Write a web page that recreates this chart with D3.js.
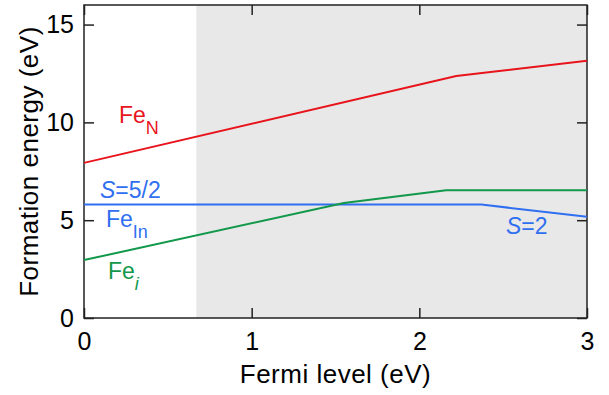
<!DOCTYPE html>
<html>
<head>
<meta charset="utf-8">
<script src="https://cdn.jsdelivr.net/npm/d3@7"></script>
<style>
  body { margin: 0; background: #fff; }
  svg text { font-family: Helvetica, "Liberation Sans", Arial, sans-serif; }
</style>
</head>
<body>
<div id="chart"></div>
<script>
// Data (Fermi level in eV -> formation energy in eV)
const feN = [[0, 7.93], [2.22, 12.37], [3, 13.15]];
const feIn = [[0, 5.8], [2.37, 5.8], [3, 5.17]];
const feI = [[0, 2.96], [1.55, 5.88], [2.16, 6.53], [3, 6.53]];
const shadeStart = 0.67;
const xTicks = [0, 1, 2, 3];
const yTicks = [0, 5, 10, 15];

const width = 609, height = 395;
const margin = { top: 5, right: 22, bottom: 77, left: 84 };

const svg = d3.select('#chart').append('svg')
  .attr('width', width)
  .attr('height', height);

const x = d3.scaleLinear().domain([0, 3]).range([margin.left, width - margin.right]);
const y = d3.scaleLinear().domain([0, 16]).range([height - margin.bottom, margin.top]);

// shaded region
svg.append('rect')
  .attr('x', x(shadeStart))
  .attr('y', y(16))
  .attr('width', x(3) - x(shadeStart))
  .attr('height', y(0) - y(16))
  .attr('fill', '#e8e8e8');

// axes with inward ticks
const tickLen = 10;
const axisB = svg.append('g')
  .attr('transform', `translate(0,${y(0)})`)
  .call(d3.axisBottom(x).tickValues(xTicks).tickSizeInner(-tickLen).tickSizeOuter(0).tickPadding(14).tickFormat(d3.format('d')));
const axisT = svg.append('g')
  .attr('transform', `translate(0,${y(16)})`)
  .call(d3.axisTop(x).tickValues(xTicks).tickSizeInner(-tickLen).tickSizeOuter(0).tickFormat(''));
const axisL = svg.append('g')
  .attr('transform', `translate(${x(0)},0)`)
  .call(d3.axisLeft(y).tickValues(yTicks).tickSizeInner(-tickLen).tickSizeOuter(0).tickPadding(10).tickFormat(d3.format('d')));
const axisR = svg.append('g')
  .attr('transform', `translate(${x(3)},0)`)
  .call(d3.axisRight(y).tickValues(yTicks).tickSizeInner(-tickLen).tickSizeOuter(0).tickFormat(''));

[axisB, axisT, axisL, axisR].forEach(g => {
  g.select('.domain').remove();
  g.selectAll('line').attr('stroke', '#222').attr('stroke-width', 1.5);
  g.selectAll('text').attr('fill', '#000').style('font-size', '25px');
});
axisB.selectAll('text').attr('dy', '0.71em');

// frame
svg.append('rect')
  .attr('x', x(0))
  .attr('y', y(16))
  .attr('width', x(3) - x(0))
  .attr('height', y(0) - y(16))
  .attr('fill', 'none')
  .attr('stroke', '#222')
  .attr('stroke-width', 1.5);

// lines
const line = d3.line().x(d => x(d[0])).y(d => y(d[1]));
const series = [
  { data: feN, color: '#e8141c' },
  { data: feIn, color: '#2f6ff0' },
  { data: feI, color: '#12984a' }
];
series.forEach(s => {
  svg.append('path')
    .datum(s.data)
    .attr('d', line)
    .attr('fill', 'none')
    .attr('stroke', s.color)
    .attr('stroke-width', 2);
});

// labels with subscripts
function label(px, py, color, main, sub, subItalic) {
  const t = svg.append('text')
    .attr('x', px)
    .attr('y', py)
    .attr('fill', color)
    .style('font-size', '23px');
  t.append('tspan').text(main);
  t.append('tspan')
    .attr('dy', 11)
    .style('font-size', '18px')
    .style('font-style', subItalic ? 'italic' : 'normal')
    .text(sub);
}
label(119, 123, '#e8141c', 'Fe', 'N', false);
label(106, 227, '#2f6ff0', 'Fe', 'In', false);
label(108, 279, '#12984a', 'Fe', 'i', true);

function spinLabel(px, py, rest) {
  const t = svg.append('text')
    .attr('x', px)
    .attr('y', py)
    .attr('fill', '#2f6ff0')
    .style('font-size', '23px');
  t.append('tspan').style('font-style', 'italic').text('S');
  t.append('tspan').text(rest);
}
spinLabel(100, 198, '=5/2');
spinLabel(506, 234, '=2');

// axis titles
svg.append('text')
  .attr('x', x(1.5))
  .attr('y', 383)
  .attr('text-anchor', 'middle')
  .style('font-size', '26px')
  .style('letter-spacing', '0.5px')
  .text('Fermi level (eV)');

svg.append('text')
  .attr('transform', `translate(38,${(y(0) + y(16)) / 2}) rotate(-90)`)
  .attr('text-anchor', 'middle')
  .style('font-size', '26px')
  .style('letter-spacing', '0.5px')
  .text('Formation energy (eV)');
</script>
</body>
</html>
